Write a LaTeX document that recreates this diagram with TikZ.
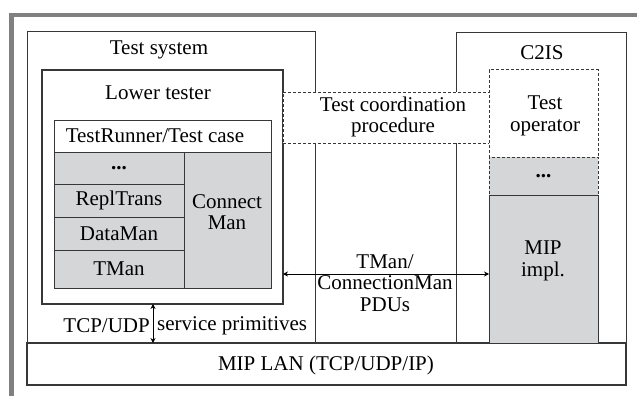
\documentclass[tikz,border=0pt]{standalone}
\usepackage{fontspec}
\setmainfont{Liberation Serif}
\usetikzlibrary{arrows.meta, positioning, calc}
\definecolor{framegray}{RGB}{128, 128, 128}
\definecolor{cellgray}{RGB}{213, 214, 216}
\definecolor{linegray}{RGB}{55, 55, 55}

\begin{document}
\begin{tikzpicture}[x=1pt, y=-1pt,
	box/.style={draw=linegray, line width=1pt, fill=white, inner sep=0pt, outer sep=0pt, anchor=north west},
	cell/.style={box, fill=cellgray},
	dashbox/.style={box, dash pattern=on 3pt off 2pt},
	lbl/.style={font=\fontsize{21}{21.5}\selectfont, align=center, inner sep=0pt},
	dbl/.style={{Stealth[length=5pt,width=5pt]}-{Stealth[length=5pt,width=5pt]}, line width=1pt, draw=black}]
	\useasboundingbox (0,0) rectangle (637,396);
	% grey frame (top and left only)
	\draw[framegray, line width=4.5pt] (11.5,396) -- (11.5,15) -- (637,15);

	% outer systems
	\node[box, minimum width=288pt, minimum height=311pt] (sys) at (27,32) {};
	\node[box, minimum width=170pt, minimum height=310pt] (c2is) at (456,33) {};
	\node[box, line width=1.6pt, minimum width=599pt, minimum height=42pt] (lan) at (27,343) {};

	% lower tester
	\node[box, line width=2.5pt, minimum width=241pt, minimum height=234pt] (lt) at (42,70) {};
	\node[box, minimum width=217pt, minimum height=32pt] (run) at (54,120) {};
	\node[cell, minimum width=130pt, minimum height=32pt] (dots) at (54,152) {};
	\node[cell, minimum width=130pt, minimum height=33pt] (repl) at (54,184) {};
	\node[cell, minimum width=130pt, minimum height=33pt] (data) at (54,217) {};
	\node[cell, minimum width=130pt, minimum height=38pt] (tman) at (54,250) {};
	\node[cell, minimum width=87pt, minimum height=136pt] (conn) at (184,152) {};

	% test coordination
	\node[dashbox, minimum width=206pt, minimum height=51pt] (coord) at (283,92) {};

	% C2IS side
	\node[dashbox, minimum width=109pt, minimum height=87pt] (oper) at (489,70) {};
	\node[cell, dash pattern=on 3pt off 2pt, minimum width=109pt, minimum height=38pt] (odots) at (489,157) {};
	\node[cell, minimum width=109pt, minimum height=148pt] (mip) at (489,195) {};

	% connectors
	\coordinate (pdu) at (0,274);
	\coordinate (prim) at (153,326);
	\draw[dbl] (lt.east |- pdu) -- (mip.west |- pdu);
	\draw[dbl] (lt.south -| prim) -- (lan.north -| prim);

	% labels
	\node[lbl] (sysL) at (159,50) {Test system};
	\node[lbl] (ltL) at (158,93) {Lower tester};
	\node[lbl] (runL) at (155,136) {TestRunner/Test case};
	\node[lbl, font=\fontsize{21}{21.5}\selectfont\bfseries] (dotsL) at (dots) {...};
	\node[lbl] (replL) at (repl) {ReplTrans};
	\node[lbl] (dataL) at (data) {DataMan};
	\node[lbl] (tmanL) at (tman) {TMan};
	\node[lbl] (connL) at (227,212) {Connect\\Man};
	\node[lbl] (coordL) at (393,117) {Test coordination\\procedure};
	\node[lbl] (c2isL) at (542,53) {C2IS};
	\node[lbl] (operL) at (545,116) {Test\\operator};
	\node[lbl, font=\fontsize{21}{21.5}\selectfont\bfseries] (odotsL) at (odots) {...};
	\node[lbl] (mipL) at (543,261) {MIP\\impl.};
	\node[lbl] (pduL) at (385,283) {TMan/\\ConnectionMan\\PDUs};
	\node[lbl, left=3pt of prim] (tcpL) {TCP/UDP};
	\node[lbl, right=4pt of prim] (servL) {service primitives};
	\node[lbl] (lanL) at (326,365) {MIP LAN (TCP/UDP/IP)};
\end{tikzpicture}
\end{document}
